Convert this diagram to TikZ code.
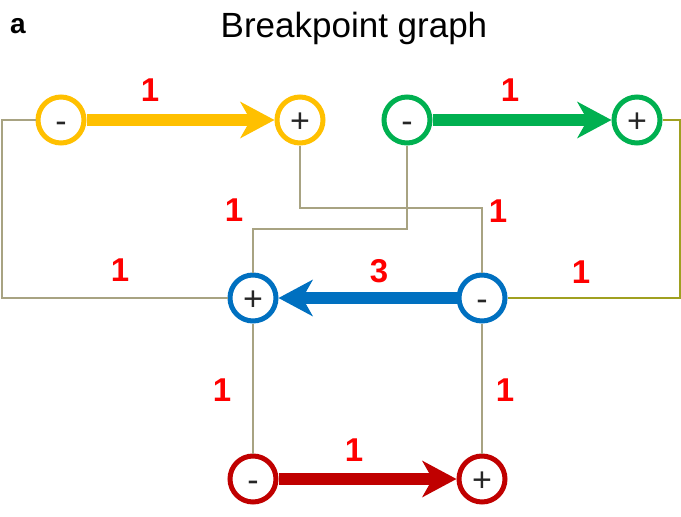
\documentclass[tikz,border=0pt]{standalone}
\usepackage{fontspec}
\setmainfont{Liberation Sans}
\usetikzlibrary{arrows.meta}
\definecolor{cyel}{HTML}{FFC000}
\definecolor{cgrn}{HTML}{00B050}
\definecolor{cblu}{HTML}{0070C0}
\definecolor{cdrk}{HTML}{C00000}
\definecolor{cred}{HTML}{FF0000}
\definecolor{clink}{HTML}{A8A382}
\definecolor{colive}{HTML}{A0A020}
\definecolor{ctxt}{HTML}{262626}
\begin{document}
\begin{tikzpicture}[x=1pt,y=-1pt,
  endpt/.style={circle, draw=#1, line width=5pt, fill=white, minimum size=46pt, inner sep=0pt,
    font=\fontsize{34}{34}\selectfont, text=ctxt, text height=24pt, text depth=0pt},
  wt/.style={text=cred, font=\fontsize{33}{33}\selectfont\bfseries, inner sep=0pt},
  link/.style={draw=clink, line width=2.5pt},
  olink/.style={draw=colive, line width=2pt},
  gene/.style={draw=#1, line width=12pt, -{Stealth[length=34pt,width=36pt,inset=10pt]}},
]
\useasboundingbox (0,0) rectangle (681,517);

\node[anchor=base, font=\fontsize{28}{28}\selectfont\bfseries] (lab) at (18,33) {a};
\node[anchor=base, font=\fontsize{35}{35}\selectfont] (title) at (354,37) {Breakpoint graph};

\node[endpt=cyel] (ym) at (61,120) {-};
\node[endpt=cyel] (yp) at (300,120) {+};
\node[endpt=cgrn] (gm) at (407,120) {-};
\node[endpt=cgrn] (gp) at (637,120) {+};
\node[endpt=cblu] (bp) at (253,298) {+};
\node[endpt=cblu] (bm) at (482,298) {-};
\node[endpt=cdrk] (rm) at (253,479) {-};
\node[endpt=cdrk] (rp) at (482,479) {+};

\coordinate (cl) at (2,210);
\coordinate (cr) at (680,210);
\coordinate (j1) at (391,208);
\coordinate (j2) at (330,229);

\draw[link] (ym.west) -| (cl) |- (bp.west);
\draw[link] (yp.south) |- (j1) -| (bm.north);
\draw[link] (gm.south) |- (j2) -| (bp.north);
\draw[olink] (gp.east) -| (cr) |- (bm.east);
\draw[link] (bp.south) -- (rm.north);
\draw[link] (bm.south) -- (rp.north);

\draw[gene=cyel] (ym.east) -- (yp.west);
\draw[gene=cgrn] (gm.east) -- (gp.west);
\draw[gene=cblu] (bm.west) -- (bp.east);
\draw[gene=cdrk] (rm.east) -- (rp.west);

\node[wt] (w1) at (150,90) {1};
\node[wt] (w2) at (510,90) {1};
\node[wt] (w3) at (234,210) {1};
\node[wt] (w4) at (498,211) {1};
\node[wt] (w5) at (120,270) {1};
\node[wt] (w6) at (379,271) {3};
\node[wt] (w7) at (581,272) {1};
\node[wt] (w8) at (222,390) {1};
\node[wt] (w9) at (505,390) {1};
\node[wt] (w10) at (354,450) {1};
\end{tikzpicture}
\end{document}
